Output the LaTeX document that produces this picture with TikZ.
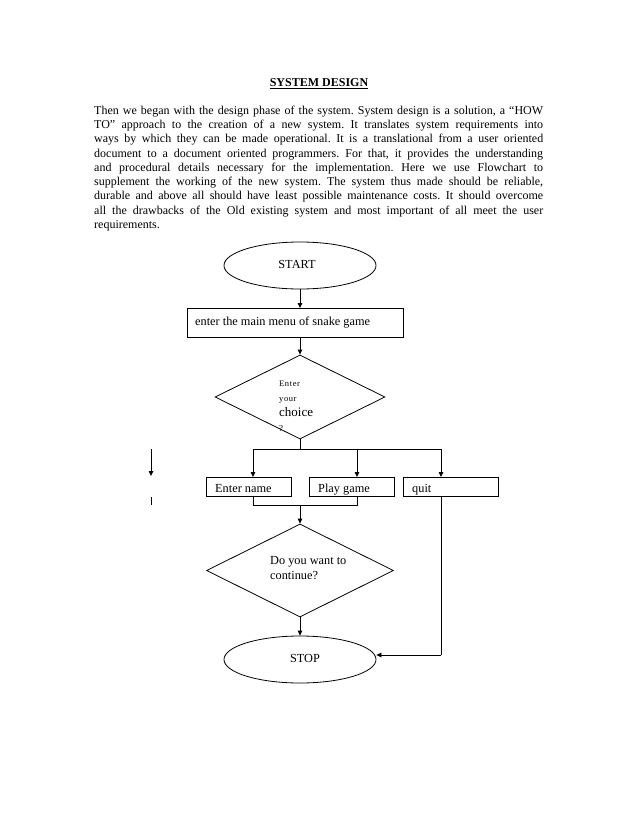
\documentclass[tikz,border=0pt]{standalone}
\usepackage{fontspec}
\setmainfont{Liberation Serif}
\usetikzlibrary{shapes.geometric,arrows.meta}
\begin{document}
\frenchspacing
\begin{tikzpicture}[x=1pt,y=-1pt,
  line/.style={draw=black,line width=0.8pt},
  arr/.style={line,-{Triangle[length=5pt,width=4.5pt]}},
  term/.style={ellipse,draw=black,line width=0.8pt,minimum width=152pt,minimum height=47pt,inner sep=0pt},
  procbox/.style={rectangle,draw=black,line width=0.8pt,inner sep=0pt,anchor=north west},
  decision/.style={diamond,draw=black,line width=0.8pt,inner sep=0pt,aspect=2},
  txt/.style={inner sep=0pt,anchor=west,font=\fontsize{12.3}{14}\selectfont},
  tiny/.style={inner sep=0pt,anchor=base west,font=\fontsize{8.5}{9}\selectfont}]
\useasboundingbox (0,0) rectangle (638,826);
\fill[white] (0,0) rectangle (638,826);
% title
\node[inner sep=0pt,anchor=base] (title) at (319,87) {\fontsize{12}{13}\selectfont\underline{\textbf{SYSTEM DESIGN}}};
% paragraph
\node[inner sep=0pt,anchor=north west,text width=449pt,align=justify,font=\fontsize{12}{14.3}\selectfont] (para) at (94,105.5)
{Then we began with the design phase of the system. System design is a solution, a “HOW\linebreak
TO” approach to the creation of a new system. It translates system requirements into\linebreak
ways by which they can be made operational. It is a translational from a user oriented\linebreak
document to a document oriented programmers. For that, it provides the understanding\linebreak
and procedural details necessary for the implementation. Here we use Flowchart to\linebreak
supplement the working of the new system. The system thus made should be reliable,\linebreak
durable and above all should have least possible maintenance costs. It should overcome\linebreak
all the drawbacks of the Old existing system and most important of all meet the user\linebreak
requirements.};
% START
\node[term] (start) at (300,265.5) {};
\node[txt,anchor=center] (starttxt) at (297,264) {START};
% menu box
\node[procbox,minimum width=216pt,minimum height=29pt] (menu) at (187,308) {};
\node[txt] (menutxt) at (195,322) {enter the main menu of snake game};
% choice diamond
\node[decision,minimum width=170pt,minimum height=84pt] (choice) at (300,397) {};
\node[tiny] (c1) at (279,386) {E\kern0.6pt n\kern0.6pt t\kern0.6pt e\kern0.6pt r};
\node[tiny] (c2) at (279,401) {y\kern0.6pt o\kern0.6pt u\kern0.6pt r};
\node[inner sep=0pt,anchor=base west,font=\fontsize{13}{14}\selectfont] (c3) at (279,416) {choice};
\node[inner sep=0pt,anchor=base west,font=\fontsize{9}{10}\selectfont] (c4) at (279,431) {?};
% option boxes
\node[procbox,minimum width=85pt,minimum height=19pt] (name) at (206,477) {};
\node[procbox,minimum width=85pt,minimum height=19pt] (play) at (309,477) {};
\node[procbox,minimum width=95pt,minimum height=19pt] (quit) at (403,477) {};
\node[txt,anchor=base west] (nametxt) at (215,492) {Enter name};
\node[txt,anchor=base west] (playtxt) at (318,492) {Play game};
\node[txt,anchor=base west] (quittxt) at (412,492) {quit};
% continue diamond
\node[decision,minimum width=187pt,minimum height=93pt] (cont) at (300,570.5) {};
\node[txt,align=left,anchor=north west,font=\fontsize{12.3}{15}\selectfont] (conttxt) at (270,556) {Do you want to\\continue?};
% STOP
\node[term] (stop) at (300,659.5) {};
\node[txt,anchor=center] (stoptxt) at (305,658) {STOP};
% coordinates
\coordinate (split) at (300,449);
\coordinate (sL) at (253,449);
\coordinate (sM) at (357,449);
\coordinate (sR) at (441,449);
\coordinate (jL) at (253,505);
\coordinate (jM) at (357,505);
\coordinate (join) at (300,505);
\coordinate (qc) at (441,655);
\coordinate (s1) at (151,449);
\coordinate (s2) at (151,476);
\coordinate (s3) at (151,497);
\coordinate (s4) at (151,505);
% connectors
\draw[arr] (start.south) -- (menu.north -| start.south);
\draw[arr] (menu.south -| choice.north) -- (choice.north);
\draw[line] (choice.south) -- (split);
\draw[line] (sL) -- (sR);
\draw[arr] (sL) -- (name.north -| sL);
\draw[arr] (sM) -- (play.north -| sM);
\draw[arr] (sR) -- (quit.north -| sR);
\draw[line] (name.south -| jL) -- (jL) -- (jM) -- (play.south -| jM);
\draw[arr] (join) -- (cont.north);
\draw[arr] (cont.south) -- (stop.north);
\draw[line] (quit.south -| qc) -- (qc);
\draw[arr] (qc) -- (stop.east |- qc);
\draw[arr] (s1) -- (s2);
\draw[line] (s3) -- (s4);
\end{tikzpicture}
\end{document}
